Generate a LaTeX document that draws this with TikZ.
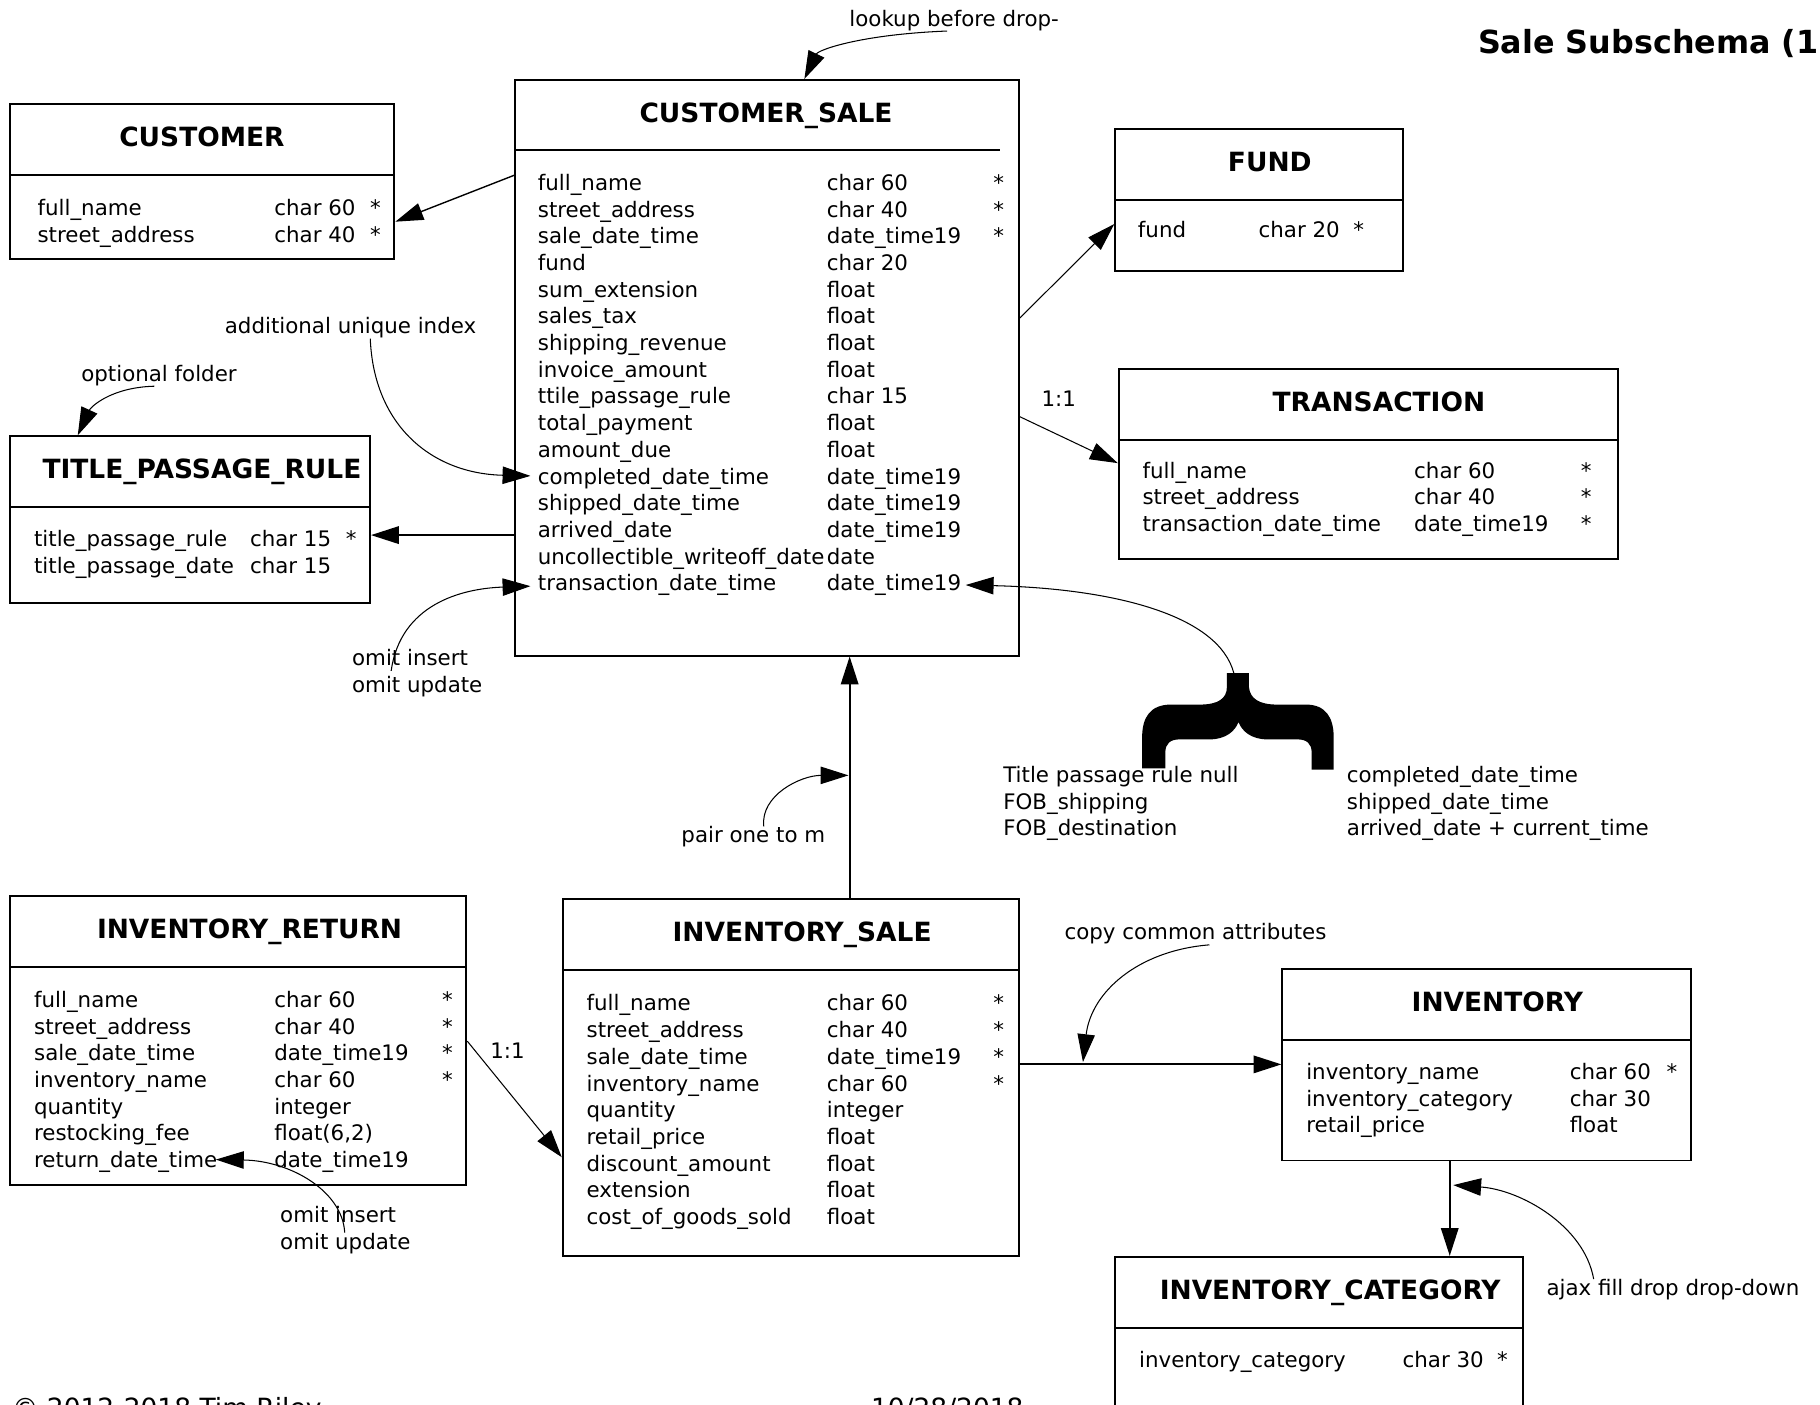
\documentclass[tikz,border=0pt]{standalone}
\usepackage{fontspec}
\setmainfont{DejaVu Sans}
\usepackage{array}
\usetikzlibrary{arrows.meta}
\begin{document}
\begin{tikzpicture}[x=0.5pt,y=-0.5pt]
\tikzstyle{tbl}=[draw,line width=0.8pt,anchor=north west,inner sep=0pt]
\tikzstyle{tblhead}=[anchor=base,inner sep=0pt,font=\fontsize{11.4}{13}\selectfont\bfseries]
\tikzstyle{tblbody}=[anchor=base west,inner sep=0pt,font=\fontsize{9.2}{11.5}\selectfont]
\tikzstyle{note}=[tblbody]
\tikzstyle{link}=[-{Triangle[length=12pt,width=7.5pt]}]
\tikzstyle{remark}=[link,line width=0.45pt]
\useasboundingbox (0,0) rectangle (1568,1210);
\clip (0,0) rectangle (1568,1210);

\node[anchor=base west,inner sep=0pt,font=\fontsize{13.7}{16}\selectfont\bfseries] (title) at (1273,46) {Sale Subschema (1};

\node[tbl,minimum width=165.5pt,minimum height=66.5pt] (cust) at (8,89) {};
\node[tbl,minimum width=217pt,minimum height=248pt] (cs) at (443,68) {};
\node[tbl,minimum width=124pt,minimum height=61.5pt] (fund) at (960,110) {};
\node[tbl,minimum width=215pt,minimum height=82pt] (trans) at (963,317) {};
\node[tbl,minimum width=155pt,minimum height=72pt] (tpr) at (8,375) {};
\node[tbl,minimum width=196.5pt,minimum height=124.5pt] (iret) at (8,771) {};
\node[tbl,minimum width=196.5pt,minimum height=153.5pt] (isale) at (484,774) {};
\node[tbl,minimum width=176pt,minimum height=82.5pt] (inv) at (1104,834) {};
\node[tbl,minimum width=175.5pt,minimum height=90pt] (icat) at (960,1082) {};

\foreach \t in {cust,fund,trans,tpr,iret,isale,inv,icat}
  \draw[line width=0.8pt] ([yshift=-31pt]\t.north west) -- ([yshift=-31pt]\t.north east);
\draw[line width=0.8pt] ([yshift=-30.5pt]cs.north west) -- ([yshift=-30.5pt,xshift=-8.5pt]cs.north east);

\node[tblhead] (custH) at (174,126.5) {CUSTOMER};
\node[tblhead] (csH) at (660,105.5) {CUSTOMER\_SALE};
\node[tblhead] (fundH) at (1094,147.5) {FUND};
\node[tblhead] (transH) at (1188,354.5) {TRANSACTION};
\node[tblhead] (tprH) at (174,412.5) {TITLE\_PASSAGE\_RULE};
\node[tblhead] (iretH) at (215,808.5) {INVENTORY\_RETURN};
\node[tblhead] (isaleH) at (691,811.5) {INVENTORY\_SALE};
\node[tblhead] (invH) at (1290,871.5) {INVENTORY};
\node[tblhead] (icatH) at (1146,1119.5) {INVENTORY\_CATEGORY};

\node[tblbody] (custB) at (32,186) {\begin{tabular}[t]{@{}w{l}{102pt}@{}w{l}{41.25pt}@{}l@{}}
full\_name & char 60 & *\\
street\_address & char 40 & *
\end{tabular}};
\node[tblbody] (csB) at (463,164) {\begin{tabular}[t]{@{}w{l}{124.5pt}@{}w{l}{71.75pt}@{}l@{}}
full\_name & char 60 & *\\
street\_address & char 40 & *\\
sale\_date\_time & date\_time19 & *\\
fund & char 20\\
sum\_extension & float\\
sales\_tax & float\\
shipping\_revenue & float\\
invoice\_amount & float\\
ttile\_passage\_rule & char 15\\
total\_payment & float\\
amount\_due & float\\
completed\_date\_time & date\_time19\\
shipped\_date\_time & date\_time19\\
arrived\_date & date\_time19\\
uncollectible\_writeoff\_date & date\\
transaction\_date\_time & date\_time19
\end{tabular}};
\node[tblbody] (fundB) at (980,205) {\begin{tabular}[t]{@{}w{l}{52pt}@{}w{l}{40.75pt}@{}l@{}}
fund & char 20 & *
\end{tabular}};
\node[tblbody] (transB) at (984,412) {\begin{tabular}[t]{@{}w{l}{117pt}@{}w{l}{71.75pt}@{}l@{}}
full\_name & char 60 & *\\
street\_address & char 40 & *\\
transaction\_date\_time & date\_time19 & *
\end{tabular}};
\node[tblbody] (tprB) at (29,471) {\begin{tabular}[t]{@{}w{l}{93pt}@{}w{l}{41.25pt}@{}l@{}}
title\_passage\_rule & char 15 & *\\
title\_passage\_date & char 15
\end{tabular}};
\node[tblbody] (iretB) at (29,868) {\begin{tabular}[t]{@{}w{l}{103.5pt}@{}w{l}{72.25pt}@{}l@{}}
full\_name & char 60 & *\\
street\_address & char 40 & *\\
sale\_date\_time & date\_time19 & *\\
inventory\_name & char 60 & *\\
quantity & integer\\
restocking\_fee & float(6,2)\\
return\_date\_time & date\_time19
\end{tabular}};
\node[tblbody] (isaleB) at (505,871) {\begin{tabular}[t]{@{}w{l}{103.5pt}@{}w{l}{71.75pt}@{}l@{}}
full\_name & char 60 & *\\
street\_address & char 40 & *\\
sale\_date\_time & date\_time19 & *\\
inventory\_name & char 60 & *\\
quantity & integer\\
retail\_price & float\\
discount\_amount & float\\
extension & float\\
cost\_of\_goods\_sold & float
\end{tabular}};
\node[tblbody] (invB) at (1125,930) {\begin{tabular}[t]{@{}w{l}{113.5pt}@{}w{l}{41.75pt}@{}l@{}}
inventory\_name & char 60 & *\\
inventory\_category & char 30\\
retail\_price & float
\end{tabular}};
\node[tblbody] (icatB) at (981,1178) {\begin{tabular}[t]{@{}w{l}{113.5pt}@{}w{l}{40.75pt}@{}l@{}}
inventory\_category & char 30 & *
\end{tabular}};

\draw[link,line width=0.6pt] (cs.west |- 0,151) -- (cust.east |- 0,191);
\draw[link,line width=0.45pt] (cs.east |- 0,274) -- (fund.west |- 0,193);
\draw[link,line width=0.45pt] (cs.east |- 0,359) -- (trans.west |- 0,399);
\node[note] (one1) at (897,350) {1:1};
\draw[link,line width=0.85pt] (cs.west |- 0,461) -- (tpr.east |- 0,461);
\draw[link,line width=0.85pt] (isale.north -| 732,0) -- (cs.south -| 732,0);
\draw[link,line width=0.45pt] (iret.east |- 0,897) -- (isale.west |- 0,997);
\node[note] (one2) at (422,912) {1:1};
\draw[link,line width=0.85pt] (isale.east |- 0,917) -- (inv.west |- 0,917);
\draw[link,line width=0.85pt] (inv.south -| 1249,0) -- (icat.north -| 1249,0);

\node[note,anchor=base] (lookup) at (822,22.5) {lookup before drop-};
\node[note,anchor=base] (uniq) at (302,287.5) {additional unique index};
\node[note,anchor=base] (folder) at (137,328.5) {optional folder};
\node[note] (omit1) at (303,573.5) {\begin{tabular}[t]{@{}l@{}}omit insert\\omit update\end{tabular}};
\node[note,anchor=base] (pair) at (649,726) {pair one to m};
\node[note,anchor=base] (copyattr) at (1030,809.5) {copy common attributes};
\node[note] (omit2) at (241,1053.5) {\begin{tabular}[t]{@{}l@{}}omit insert\\omit update\end{tabular}};
\node[note] (ajax) at (1332,1116) {ajax fill drop drop-down};
\node[note] (fob) at (864,674) {\begin{tabular}[t]{@{}l@{}}Title passage rule null\\FOB\_shipping\\FOB\_destination\end{tabular}};
\node[note] (dates) at (1160,674) {\begin{tabular}[t]{@{}l@{}}completed\_date\_time\\shipped\_date\_time\\arrived\_date + current\_time\end{tabular}};
\node[note,font=\fontsize{11.4}{13}\selectfont] (copyright) at (10,1221) {© 2012-2018 Tim Riley};
\node[note,font=\fontsize{11.4}{13}\selectfont] (printed) at (750,1221) {10/28/2018};

\coordinate (brace) at (1063,580);
\coordinate (uniqEnd) at (457,410);
\coordinate (omit1End) at (457,505);
\coordinate (braceEnd) at (832,504);
\coordinate (pairEnd) at (731,668);
\coordinate (copyEnd) at (933,915);
\coordinate (omit2End) at (186,999);
\coordinate (ajaxEnd) at (1252,1021);

\draw[remark] ([xshift=-3pt]lookup.south) .. controls +(-75,3) and +(12,-25) .. (cs.north -| 693,0);
\draw[remark] ([xshift=8.5pt]uniq.south) .. controls +(3,75) and +(-85,-2) .. (uniqEnd);
\draw[remark] ([xshift=-2pt]folder.south) .. controls +(-38,1) and +(11,-24) .. (tpr.north -| 67,0);
\draw[remark] (337,578) .. controls +(8,-57) and +(-60,2) .. (omit1End);
\draw[remark] (brace) .. controls +(-13,-50) and +(128,3) .. (braceEnd);
\draw[remark] (658,712) .. controls +(-3,-27) and +(-41,0) .. (pairEnd);
\draw[remark] (1042,814) .. controls +(-62,5) and +(7,-60) .. (copyEnd);
\draw[remark] (297,1062) .. controls +(-2,-36) and +(64,1) .. (omit2End);
\draw[remark] (1373,1102) .. controls +(-8,-46) and +(58,4) .. (ajaxEnd);

\fill (1057,580) -- (1076,580) -- (1076,592)
  .. controls (1077,602) and (1085,607) .. (1100,607)
  -- (1125,607) .. controls (1142,607) and (1149,618) .. (1149,635)
  -- (1149,663) -- (1130,663) -- (1130,648)
  .. controls (1130,641) and (1126,637) .. (1118,637)
  -- (1092,637) .. controls (1078,637) and (1070,630) .. (1067,622)
  .. controls (1064,630) and (1056,637) .. (1042,637)
  -- (1016,637) .. controls (1008,637) and (1004,641) .. (1004,648)
  -- (1004,662) -- (984,662) -- (984,635)
  .. controls (984,618) and (991,607) .. (1009,607)
  -- (1034,607) .. controls (1049,607) and (1057,602) .. (1057,592) -- cycle;
\end{tikzpicture}
\end{document}
